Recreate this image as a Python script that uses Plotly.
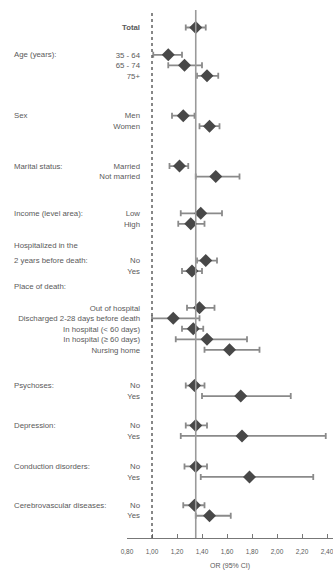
import plotly.graph_objects as go

# ---- data -------------------------------------------------------------
group_titles = [
    [],
    ["Age (years):"],
    ["Sex"],
    ["Marital status:"],
    ["Income (level area):"],
    ["Hospitalized in the", "2 years before death:"],
    ["Place of death:"],
    ["Psychoses:"],
    ["Depression:"],
    ["Conduction disorders:"],
    ["Cerebrovascular diseases:"],
]
group_rows = [
    ["Total"],
    ["35 - 64", "65 - 74", "75+"],
    ["Men", "Women"],
    ["Married", "Not married"],
    ["Low", "High"],
    ["No", "Yes"],
    ["Out of hospital", "Discharged 2-28 days before death",
     "In hospital (< 60 days)", "In hospital (\u2265 60 days)", "Nursing home"],
    ["No", "Yes"],
    ["No", "Yes"],
    ["No", "Yes"],
    ["No", "Yes"],
]
odds_ratio = [1.35,
              1.13, 1.26, 1.44,
              1.25, 1.46,
              1.22, 1.51,
              1.39, 1.31,
              1.43, 1.32,
              1.38, 1.17, 1.33, 1.44, 1.62,
              1.34, 1.71,
              1.35, 1.72,
              1.35, 1.78,
              1.34, 1.46]
ci_low = [1.27,
          1.01, 1.13, 1.36,
          1.16, 1.38,
          1.14, 1.35,
          1.23, 1.21,
          1.36, 1.24,
          1.28, 1.00, 1.24, 1.19, 1.42,
          1.27, 1.40,
          1.27, 1.23,
          1.26, 1.39,
          1.25, 1.35]
ci_high = [1.43,
           1.24, 1.40, 1.53,
           1.34, 1.54,
           1.29, 1.70,
           1.56, 1.42,
           1.52, 1.40,
           1.50, 1.38, 1.41, 1.76, 1.86,
           1.42, 2.11,
           1.44, 2.39,
           1.44, 2.29,
           1.42, 1.63]
x_ticks = [0.8, 1.0, 1.2, 1.4, 1.6, 1.8, 2.0, 2.2, 2.4]
x_tick_labels = ["0,80", "1,00", "1,20", "1,40", "1,60", "1,80", "2,00", "2,20", "2,40"]

# ---- layout parameters --------------------------------------------------
# distance (in rows) from the last row of the previous group to the first
# row of each group, and where the header's last line sits relative to the
# group's first row
group_gap = [0, 2.6, 3.8, 3.8, 3.5, 3.5, 3.5, 3.4, 2.8, 2.9, 2.7]
header_offset = [0, 0, 0, 0, 0, 0, -2.0, 0, 0, 0, 0]
HEADER_LINE_STEP = 1.4

W, H = 333, 575
M_L, M_R, M_T, M_B = 127, 0, 10, 37
ROW_PX = 10.5
TOP_PAD_PX = 17.5
PX_PER_UNIT = 125.0
TEXT = "#5a5a5a"
FONT = "Liberation Sans, Arial, sans-serif"

# ---- row positions ----------------------------------------------------------
row_y, row_text, header_annots = [], [], []
last = 0.0
for gi, (titles, rows) in enumerate(zip(group_titles, group_rows)):
    first = 0.0 if gi == 0 else last + group_gap[gi]
    for k, r in enumerate(rows):
        row_y.append(first + k)
        row_text.append("<b>Total</b>" if r == "Total" else r)
    last = first + len(rows) - 1
    line_y = first + header_offset[gi]
    for li, t in enumerate(titles):
        header_annots.append((t, line_y - (len(titles) - 1 - li) * HEADER_LINE_STEP))

plot_h = H - M_T - M_B
plot_w = W - M_L - M_R
y_top = -TOP_PAD_PX / ROW_PX
y_bottom = y_top + plot_h / ROW_PX
x_min = 0.8
x_max = x_min + plot_w / PX_PER_UNIT

fig = go.Figure()

fig.add_trace(go.Scatter(
    x=odds_ratio,
    y=row_y,
    mode="markers",
    marker=dict(symbol="diamond", size=10, color="#484848"),
    error_x=dict(
        type="data",
        symmetric=False,
        array=[h - o for h, o in zip(ci_high, odds_ratio)],
        arrayminus=[o - l for o, l in zip(odds_ratio, ci_low)],
        color="#8a8a8a",
        thickness=1.8,
        width=3,
    ),
    hoverinfo="skip",
    showlegend=False,
    cliponaxis=False,
))

# reference line at OR = 1 and line at the overall estimate
fig.add_shape(type="line", xref="x", yref="paper", x0=1.0, x1=1.0, y0=0, y1=1,
              line=dict(color="#555555", width=1.4, dash="dot"))
fig.add_shape(type="line", xref="x", yref="paper", x0=odds_ratio[0], x1=odds_ratio[0],
              y0=0, y1=1, line=dict(color="#9a9a9a", width=1.6))

for text, yy in header_annots:
    fig.add_annotation(
        text=text, xref="paper", yref="y", x=(12 - M_L) / plot_w, y=yy,
        xanchor="left", yanchor="middle", showarrow=False,
        font=dict(family=FONT, size=7.8, color=TEXT),
    )

fig.update_layout(
    width=W, height=H,
    margin=dict(l=M_L, r=M_R, t=M_T, b=M_B),
    paper_bgcolor="white",
    plot_bgcolor="white",
    font=dict(family=FONT, size=7.8, color=TEXT),
    xaxis=dict(
        range=[x_min, x_max],
        tickvals=x_ticks,
        ticktext=x_tick_labels,
        ticks="inside",
        ticklen=4,
        tickwidth=1,
        tickcolor="#777777",
        showline=True,
        linecolor="#777777",
        linewidth=1,
        showgrid=False,
        zeroline=False,
        tickfont=dict(family=FONT, size=6.5, color=TEXT),
        ticklabelstandoff=7,
        ticklabeloverflow="allow",
        title=dict(text="OR (95% CI)", standoff=9,
                   font=dict(family=FONT, size=7, color=TEXT)),
    ),
    yaxis=dict(
        range=[y_bottom, y_top],
        tickvals=row_y,
        ticktext=row_text,
        ticks="",
        showline=False,
        showgrid=False,
        zeroline=False,
        ticklabelstandoff=-14,
        tickfont=dict(family=FONT, size=7.8, color=TEXT),
    ),
)

fig.write_html("out.html")
